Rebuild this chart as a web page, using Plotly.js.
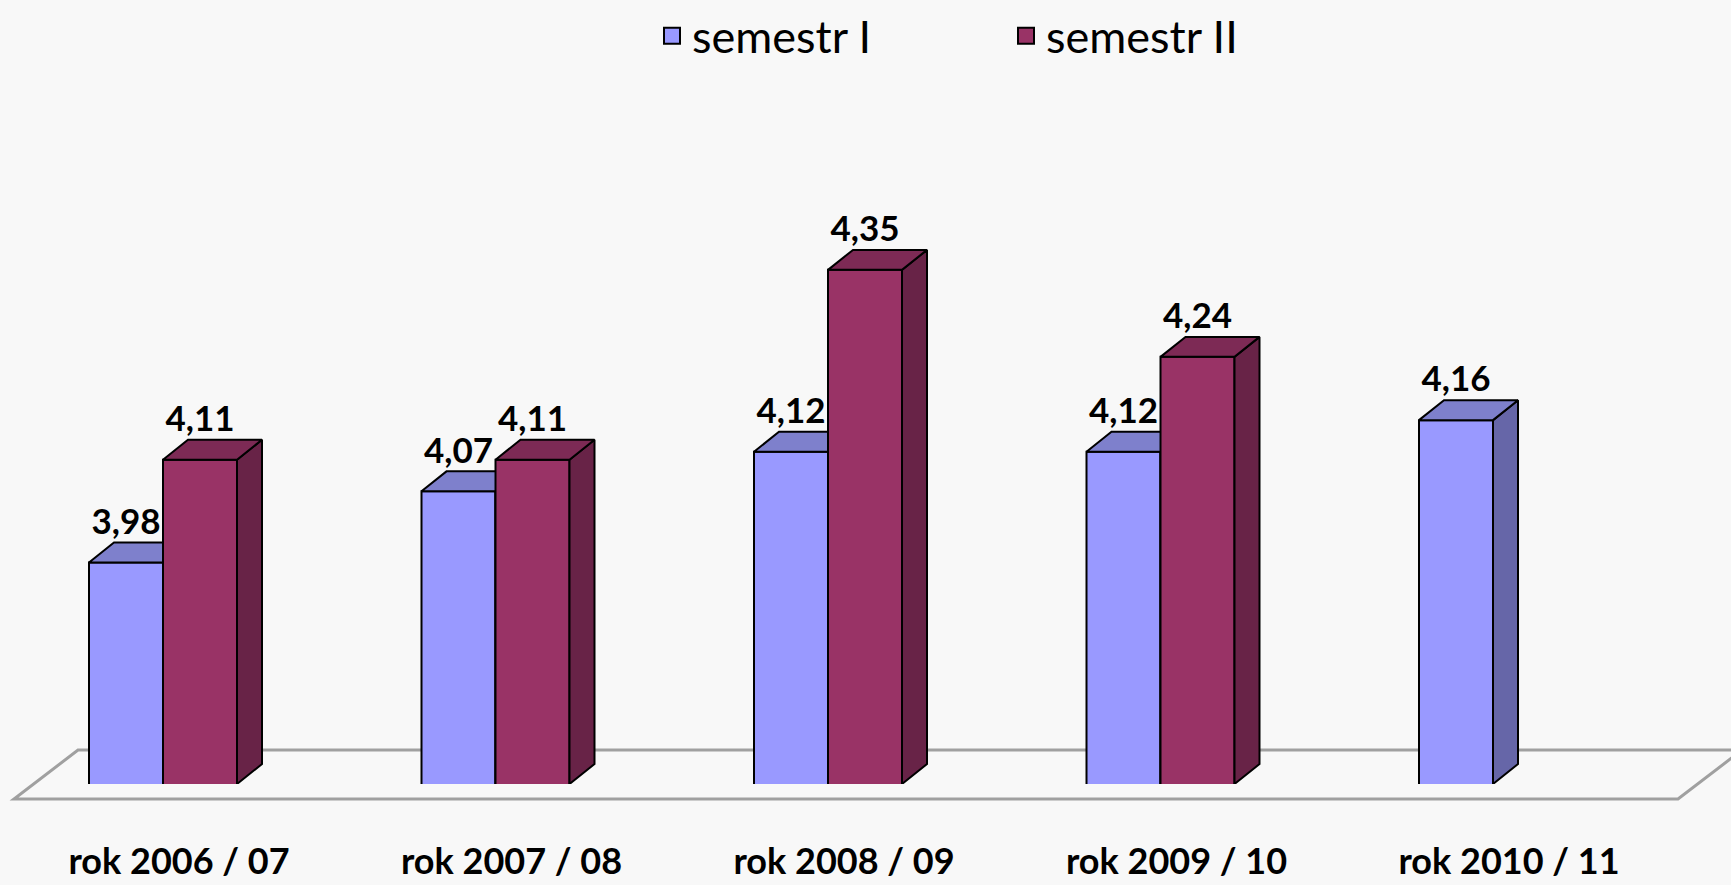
<!DOCTYPE html>
<html><head><meta charset="utf-8">
<script src="https://cdn.plot.ly/plotly-3.0.1.min.js"></script>
<style>html,body{margin:0;padding:0;background:#f8f8f8;} #chart{width:1731px;height:885px;}</style>
</head><body><div id="chart"></div>
<script>
// ---- data ----
const categories = ['rok 2006 / 07', 'rok 2007 / 08', 'rok 2008 / 09', 'rok 2009 / 10', 'rok 2010 / 11'];
const semestrI  = [3.98, 4.07, 4.12, 4.12, 4.16];
const semestrII = [4.11, 4.11, 4.35, 4.24, null];
const seriesNames = ['semestr I', 'semestr II'];

// ---- geometry / style ----
const W = 1731, H = 885, PLOT_BOTTOM = 784;
const PX_PER_CAT = 332.5, PX_PER_UNIT = 792;
const BASE = 3.7;
const X0 = -163 / PX_PER_CAT;
const xRange = [X0, X0 + W / PX_PER_CAT];
const yRange = [BASE, BASE + PLOT_BOTTOM / PX_PER_UNIT];
const BAR_W = 74 / PX_PER_CAT;
const DX = 25 / PX_PER_CAT, DY = 20 / PX_PER_UNIT;
const xIdx = categories.map((_, i) => i);

const colors = {
  I:  {front: '#9999ff', top: '#7e80cc', side: '#6666a8'},
  II: {front: '#993366', top: '#7d2a55', side: '#682347'}
};

function faces(values, off) {
  const top = {x: [], y: []}, side = {x: [], y: []};
  values.forEach((v, i) => {
    if (v == null) return;
    const xl = i + off, xr = xl + BAR_W;
    top.x.push(xl, xl + DX, xr + DX, xr, xl, null);
    top.y.push(v, v + DY, v + DY, v, v, null);
    side.x.push(xr, xr + DX, xr + DX, xr, xr, null);
    side.y.push(BASE, BASE + DY, v + DY, v, BASE, null);
  });
  return {top, side};
}

const OUT = {color: '#000000', width: 2};
function barTrace(values, off, c, z, name) {
  return {type: 'bar', x: xIdx, y: values, width: BAR_W, offset: off, base: 0,
    marker: {color: c.front, line: OUT}, showlegend: false, hoverinfo: 'skip', zorder: z, name: name};
}
function faceTrace(f, color, z) {
  return {type: 'scatter', mode: 'lines', x: f.x, y: f.y, fill: 'toself', fillcolor: color,
    line: {color: '#000000', width: 2}, showlegend: false, hoverinfo: 'skip', zorder: z};
}
const fI = faces(semestrI, -BAR_W), fII = faces(semestrII, 0);
const fmt = v => v == null ? '' : v.toFixed(2).replace('.', ',');
const lblFont = {family: 'Lato', size: 35, weight: 700, color: '#000000'};

const data = [
  barTrace(semestrI, -BAR_W, colors.I, 0, seriesNames[0]),
  faceTrace(fI.side, colors.I.side, 1),
  faceTrace(fI.top, colors.I.top, 1),
  barTrace(semestrII, 0, colors.II, 2, seriesNames[1]),
  faceTrace(fII.side, colors.II.side, 3),
  faceTrace(fII.top, colors.II.top, 3),
  {type: 'scatter', mode: 'text', x: xIdx.map(i => i - BAR_W / 2), y: semestrI.map(v => v + DY),
   text: semestrI.map(fmt), textposition: 'top center', textfont: lblFont, showlegend: false, hoverinfo: 'skip', cliponaxis: false, zorder: 4},
  {type: 'scatter', mode: 'text', x: xIdx.map(i => i + BAR_W / 2), y: semestrII.map(v => v == null ? null : v + DY),
   text: semestrII.map(fmt), textposition: 'top center', textfont: lblFont, showlegend: false, hoverinfo: 'skip', cliponaxis: false, zorder: 4},
  {type: 'scatter', mode: 'markers', x: [null], y: [null], name: seriesNames[0],
   marker: {symbol: 'square', size: 16, color: colors.I.front, line: {color: '#000', width: 2}}},
  {type: 'scatter', mode: 'markers', x: [null], y: [null], name: seriesNames[1],
   marker: {symbol: 'square', size: 16, color: colors.II.front, line: {color: '#000', width: 2}}}
];

const px = p => p / W, py = p => (PLOT_BOTTOM - p) / PLOT_BOTTOM;
const floorPath = `M ${px(14)} ${py(799)} L ${px(1678)} ${py(799)} L ${px(1742)} ${py(750)} L ${px(78)} ${py(750)} Z`;

const layout = {
  width: W, height: H,
  margin: {l: 0, r: 0, t: 0, b: H - PLOT_BOTTOM, pad: 0},
  paper_bgcolor: '#f8f8f8', plot_bgcolor: 'rgba(0,0,0,0)',
  barmode: 'overlay',
  xaxis: {range: xRange, tickvals: xIdx, ticktext: categories, showgrid: false, zeroline: false,
    showline: false, ticks: '', ticklabelstandoff: 53, ticklabelshift: 16, automargin: false,
    tickfont: {family: 'Lato', size: 36, weight: 700, color: '#000000'}},
  yaxis: {range: yRange, showgrid: false, zeroline: false, showline: false, showticklabels: false, ticks: ''},
  showlegend: true,
  legend: {orientation: 'h', x: 652 / W, y: py(35), xanchor: 'left', yanchor: 'middle',
    font: {family: 'Lato', size: 45, color: '#000000'}, entrywidth: 309, bgcolor: 'rgba(0,0,0,0)'},
  shapes: [{type: 'path', xref: 'paper', yref: 'paper', path: floorPath, layer: 'below',
    line: {color: '#a0a0a0', width: 3}, fillcolor: 'rgba(0,0,0,0)'}]
};

Plotly.newPlot('chart', data, layout, {displayModeBar: false, staticPlot: true});
</script>
</body></html>
